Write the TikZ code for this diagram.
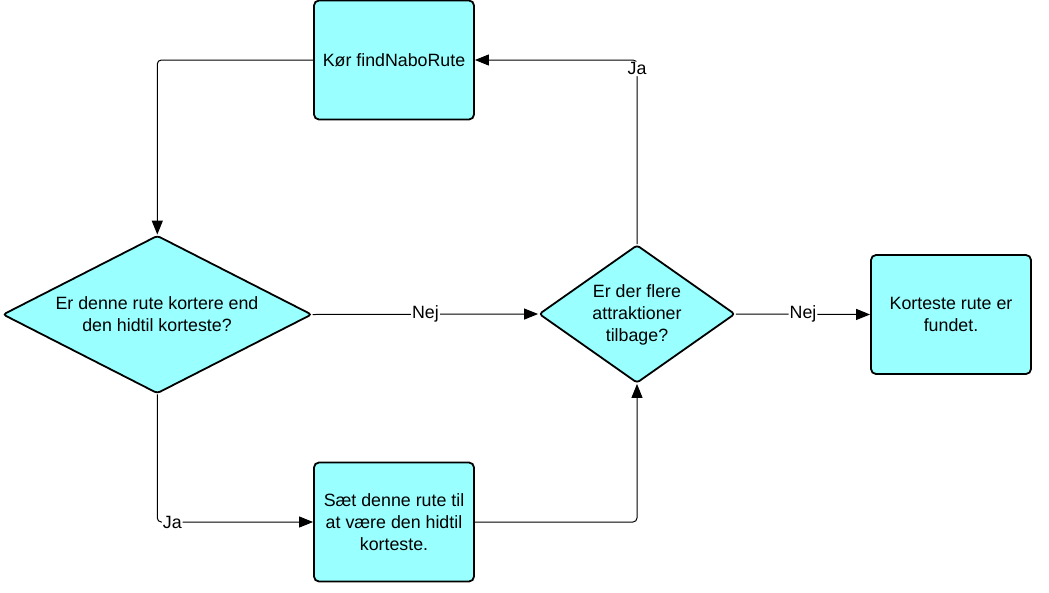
\documentclass[tikz,border=0pt]{standalone}
\usepackage{fontspec}
\setmainfont{Liberation Sans}
\usetikzlibrary{shapes.geometric,arrows.meta}
\definecolor{boxfill}{RGB}{153,255,255}
\begin{document}
\begin{tikzpicture}[x=1pt,y=-1pt,
  txt/.style={font=\fontsize{17.8}{21.8}\selectfont, align=center},
  box/.style={draw=black, line width=1.8pt, fill=boxfill, rounded corners=5pt, minimum width=160pt, minimum height=119pt, inner sep=0pt, txt},
  dia/.style={diamond, draw=black, line width=1.8pt, fill=boxfill, rounded corners=3pt, inner sep=0pt},
  conn/.style={draw=black, line width=1pt, rounded corners=4pt, -{Triangle[length=14pt,width=11pt]}},
  lbl/.style={fill=white, inner sep=1pt, txt}]
\useasboundingbox (0,0) rectangle (1049,592);
\node[box] (k) at (394,60) {Kør findNaboRute};
\node[dia, minimum width=309pt, minimum height=158pt] (d1) at (157.3,314.5) {};
\node[txt] (d1t) at (157,314) {Er denne rute kortere end\\den hidtil korteste?};
\node[dia, minimum width=196pt, minimum height=138pt] (d2) at (637,314) {};
\node[txt] (d2t) at (637,315) {Er der flere\\attraktioner\\tilbage?};
\node[box] (f) at (951,314.5) {Korteste rute er\\fundet.};
\node[box] (s) at (394,522) {Sæt denne rute til\\at være den hidtil\\korteste.};
\draw[conn] (k.west) -| (d1.north);
\draw[conn] (d1.east) -- node[lbl]{Nej} (d2.west);
\draw[conn] (d1.south) |- node[lbl,pos=0.548]{Ja} (s.west);
\draw[conn] (s.east) -| (d2.south);
\draw[conn] (d2.north) |- node[lbl,pos=0.476]{Ja} (k.east);
\draw[conn] (d2.east) -- node[lbl]{Nej} (f.west);
\end{tikzpicture}
\end{document}
